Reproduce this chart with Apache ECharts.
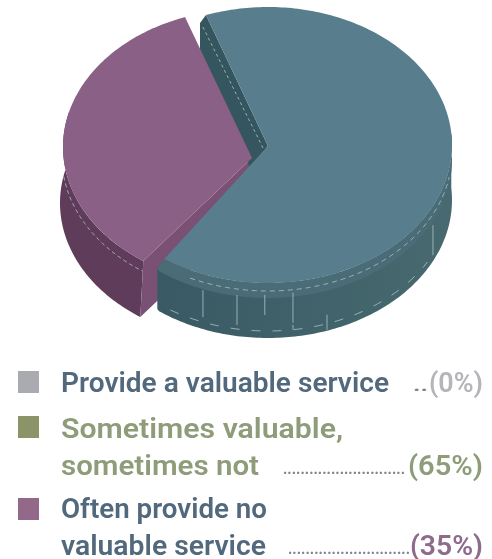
<!DOCTYPE html>
<html>
<head>
<meta charset="utf-8">
<style>html,body{margin:0;padding:0;background:#fff}#chart{width:492px;height:559px}</style>
<script src="https://cdn.jsdelivr.net/npm/echarts@6/dist/echarts.min.js"></script>
</head>
<body>
<div id="chart"></div>
<script>
// Survey answers and their shares of the pie
const categories = ['Provide a valuable service', 'Sometimes valuable, sometimes not', 'Often provide no valuable service'];
const shares = [0, 65, 35];
const shareLabels = ['(0%)', '(65%)', '(35%)'];
const legendLines = [['Provide a valuable service'], ['Sometimes valuable,', 'sometimes not'], ['Often provide no', 'valuable service']];
const leaderDots = [2, 28, 28];

// Colours
const swatchColors = ['#a9abb0', '#8a9468', '#93698a'];
const nameColors = ['#52697d', '#8e9c7a', '#52697d'];
const valueColors = ['#b3b5ba', '#8e9c7a', '#8e6a8c'];
const faceColors = [null, '#587e8d', '#8a6086'];
const rimColors = [null, '#4a6c76', '#6a4666'];
const sideColors = [null, ['#395a64', '#47696f'], ['#5e3c5a', '#5e3c5a']];
const wallColors = [null, '#36565f', '#7a5075'];

// Projected pie geometry
const RX = 184, RY = 138, FIRST_ANGLE = -19.7;
const geometry = [null,
  { c: [268, 145], apex: [268, 146], depth: [0, 55], sideFrom: 85 },
  { c: [247, 147], apex: [252, 158], depth: [-3, 56], sideTo: 285 }
];

// Rim seams of the teal slice: angle on the rim, then start and end depth
const seams = [[200.7, 16, 43], [189.7, 14, 44], [181, 12, 32], [172.2, 11, 48], [161.3, 39, 54], [116.3, 19, 49]];

const rad = d => d * Math.PI / 180;
const onRim = (c, a, off) => [c[0] + RX * Math.sin(rad(a)) + (off ? off[0] : 0), c[1] - RY * Math.cos(rad(a)) + (off ? off[1] : 0)];
const arc = (c, from, to, off) => {
  const pts = [], n = Math.max(2, Math.ceil(Math.abs(to - from)));
  for (let i = 0; i <= n; i++) pts.push(onRim(c, from + (to - from) * i / n, off));
  return pts;
};
const plus = (p, o) => [p[0] + o[0], p[1] + o[1]];
const poly = (points, fill, z2) => ({ type: 'polygon', shape: { points }, style: { fill }, z2, silent: true });
const dashes = (points, z2, dash) => ({ type: 'polyline', shape: { points }, style: { fill: 'none', stroke: '#a8bcc2', lineWidth: 1, lineDash: dash || [5, 4], opacity: 0.85 }, z2, silent: true });

// Angular span of every answer, clockwise from the first angle
const spans = [];
shares.reduce((acc, v) => { spans.push([acc, acc + v * 3.6]); return acc + v * 3.6; }, FIRST_ANGLE);

function renderSlice(params, api) {
  const i = params.dataIndex;
  const value = api.value(0);
  if (!value) return null;
  const [a0, a1] = spans[i];
  const g = geometry[i];
  const children = [];
  const sideFill = new echarts.graphic.LinearGradient(0, 0, 1, 0, [
    { offset: 0, color: sideColors[i][0] }, { offset: 1, color: sideColors[i][1] }
  ]);
  if (i === 1) {
    const startTip = onRim(g.c, a0), endTip = onRim(g.c, a1);
    const corner = plus(endTip, [-7, 10]);
    // outer skin, with the lighter upper band over it
    children.push(poly([endTip, corner, plus(corner, [0, 40])].concat(arc(g.c, a1 + 2, g.sideFrom, g.depth), arc(g.c, g.sideFrom, a1)), sideFill, 10));
    children.push(poly([endTip, corner].concat(arc(g.c, a1 + 2, g.sideFrom, [0, 15]), arc(g.c, g.sideFrom, a1)), rimColors[i], 11));
    children.push(dashes(arc(g.c, 205, 100, [0, 8]), 12));
    children.push(dashes(arc(g.c, 212, 120, [0, 48]), 12, [9, 12]));
    seams.forEach(s => children.push(dashes([onRim(g.c, s[0], [0, s[1]]), onRim(g.c, s[0], [0, s[2]])], 12, [30, 2])));
    // cut wall, tucked between the two faces
    const apexLow = plus(g.apex, [-18, 22]);
    children.push(poly([startTip, g.apex, apexLow, plus(startTip, [-6, 38]), plus(startTip, [-6, 8])], wallColors[i], 4));
    children.push(dashes([plus(startTip, [-3, 12]), plus(g.apex, [-4, 4])], 4, [3, 3]));
    // top face
    children.push(poly([g.apex].concat(arc(g.c, a0, a1)), faceColors[i], 20));
  } else {
    const lowTip = onRim(g.c, a0);
    children.push(poly(arc(g.c, a0, g.sideTo).concat(arc(g.c, g.sideTo, a0, g.depth)), sideFill, 2));
    children.push(dashes(arc(g.c, a0 - 1, 262, [-1, 10]), 3, [4, 3]));
    children.push(poly([g.apex, lowTip, plus(lowTip, g.depth), plus(g.apex, g.depth)], wallColors[i], 3));
    children.push(poly([g.apex].concat(arc(g.c, a0, a1)), faceColors[i], 5));
  }
  return { type: 'group', children };
}

// Legend rows: text is fitted horizontally to each line's measured run
const ROW_TOP = [371, 416, 498];
const LINE_STEP = 37, FIRST_BASELINE = [392, 438, 518];
const TEXT_DROP = 7;
const NAME_FONT = '600 27px Roboto', VALUE_FONT = '600 27px Roboto', DOT_FONT = '700 16px Roboto';
const NAME_LEFT = 61, VALUE_RIGHT = 483;
const nameWidths = [[328], [282, 198], [206, 205]];
const valueWidths = [54, 75, 73];
const dotSpans = [[413, 428], [283, 405], [288, 410]];

function fitted(text, font, width, x, y, fill, align) {
  const w = echarts.format.getTextRect ? echarts.format.getTextRect(text, font).width : width;
  return {
    type: 'text', x, y, scaleX: width / w,
    style: { text, font, fill, textAlign: align, textVerticalAlign: 'bottom' }
  };
}

const legend = [];
categories.forEach((cat, i) => {
  legend.push({ type: 'rect', shape: { x: 18, y: ROW_TOP[i], width: 21, height: 22 }, style: { fill: swatchColors[i] } });
  const lines = legendLines[i];
  lines.forEach((t, k) => legend.push(fitted(t, NAME_FONT, nameWidths[i][k], NAME_LEFT, FIRST_BASELINE[i] + k * LINE_STEP + TEXT_DROP, nameColors[i], 'left')));
  const lastY = FIRST_BASELINE[i] + (lines.length - 1) * LINE_STEP + TEXT_DROP;
  legend.push(fitted(shareLabels[i], VALUE_FONT, valueWidths[i], VALUE_RIGHT, lastY, valueColors[i], 'right'));
  legend.push(fitted('.'.repeat(leaderDots[i]), DOT_FONT, dotSpans[i][1] - dotSpans[i][0], dotSpans[i][1], lastY - 4, '#7f8689', 'right'));
});

const chart = echarts.init(document.getElementById('chart'), null, { renderer: 'canvas' });
chart.setOption({
  animation: false,
  backgroundColor: '#ffffff',
  tooltip: { show: false },
  series: [{
    type: 'custom',
    coordinateSystem: 'none',
    silent: true,
    data: shares.map((v, i) => ({ name: categories[i], value: [v] })),
    renderItem: renderSlice
  }],
  graphic: { elements: legend }
});
</script>
</body>
</html>
